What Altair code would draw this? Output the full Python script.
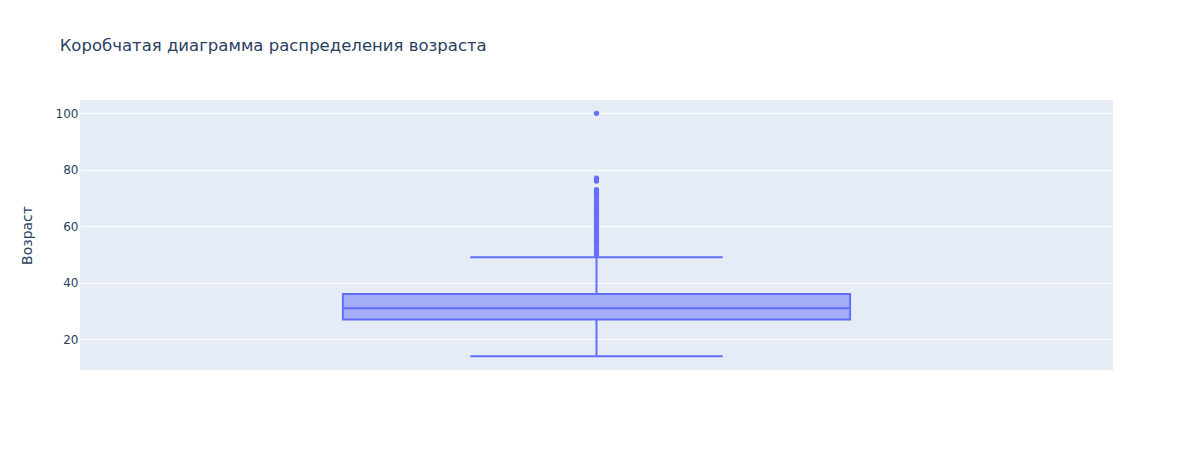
import altair as alt
import pandas as pd

# ---- data ----
q1 = [27]
median = [31]
q3 = [36]
whisker_low = [14]
whisker_high = [49]
outliers = [50, 51, 52, 53, 54, 55, 56, 57, 58, 59, 60, 61, 62, 63, 64, 65,
            66, 67, 68, 69, 70, 71, 72, 73, 76, 77, 100]

# ---- styling constants ----
COLOR = "#636efa"
FONT = "DejaVu Sans"
TXT = "#2a3f5f"
CENTER = 0.5
BOX_HALF = 0.2455
CAP_HALF = 0.1222

box_df = pd.DataFrame({
    "q1": q1, "median": median, "q3": q3,
    "lo": whisker_low, "hi": whisker_high,
    "xl": [CENTER - BOX_HALF], "xr": [CENTER + BOX_HALF],
    "cl": [CENTER - CAP_HALF], "cr": [CENTER + CAP_HALF],
    "xc": [CENTER],
})
out_df = pd.DataFrame({"age": outliers, "xc": [CENTER] * len(outliers)})

xscale = alt.Scale(domain=[0, 1], nice=False, zero=False)
yscale = alt.Scale(domain=[9.13, 104.7], nice=False, zero=False)

yaxis = alt.Axis(
    title="Возраст", values=[20, 40, 60, 80, 100], grid=True, gridColor="white",
    gridWidth=1, domain=False, ticks=False, tickSize=0, labelPadding=2,
    labelFont=FONT, labelFontSize=12, labelColor=TXT,
    titleFont=FONT, titleFontSize=14, titleColor=TXT, titleFontWeight="normal",
    titleAngle=270, titleX=-49, titleY=135, titleAlign="center",
    titleBaseline="alphabetic",
)

base = alt.Chart(box_df)

box = base.mark_rect(
    fill=COLOR, fillOpacity=0.5, stroke=COLOR, strokeWidth=2, strokeOpacity=1
).encode(
    x=alt.X("xl:Q", scale=xscale, axis=None), x2="xr:Q",
    y=alt.Y("q1:Q", scale=yscale, axis=yaxis), y2="q3:Q",
)

med = base.mark_rule(color=COLOR, strokeWidth=2).encode(
    x=alt.X("xl:Q", scale=xscale, axis=None), x2="xr:Q",
    y=alt.Y("median:Q", scale=yscale, axis=yaxis),
)

wl = base.mark_rule(color=COLOR, strokeWidth=2).encode(
    x=alt.X("xc:Q", scale=xscale, axis=None),
    y=alt.Y("lo:Q", scale=yscale, axis=yaxis), y2="q1:Q",
)
wh = base.mark_rule(color=COLOR, strokeWidth=2).encode(
    x=alt.X("xc:Q", scale=xscale, axis=None),
    y=alt.Y("q3:Q", scale=yscale, axis=yaxis), y2="hi:Q",
)
cap_lo = base.mark_rule(color=COLOR, strokeWidth=2).encode(
    x=alt.X("cl:Q", scale=xscale, axis=None), x2="cr:Q",
    y=alt.Y("lo:Q", scale=yscale, axis=yaxis),
)
cap_hi = base.mark_rule(color=COLOR, strokeWidth=2).encode(
    x=alt.X("cl:Q", scale=xscale, axis=None), x2="cr:Q",
    y=alt.Y("hi:Q", scale=yscale, axis=yaxis),
)

pts = alt.Chart(out_df).mark_circle(color=COLOR, opacity=1, size=28).encode(
    x=alt.X("xc:Q", scale=xscale, axis=None),
    y=alt.Y("age:Q", scale=yscale, axis=yaxis),
)

chart = alt.layer(box, wl, wh, cap_lo, cap_hi, med, pts).properties(
    width=1033, height=270,
    autosize=alt.AutoSizeParams(type="none"),
    padding={"left": 80, "right": 80, "top": 100, "bottom": 80},
    title=alt.TitleParams(
        text="Коробчатая диаграмма распределения возраста",
        anchor="start", frame="group", dx=-20.35, offset=33,
        baseline="alphabetic", font=FONT, fontSize=16.5, color=TXT,
        fontWeight="normal",
    ),
    background="white",
).configure_view(
    fill="#E5ECF6", stroke=None,
)

chart.save("out.html", embed_options={"renderer": "svg", "actions": False})
